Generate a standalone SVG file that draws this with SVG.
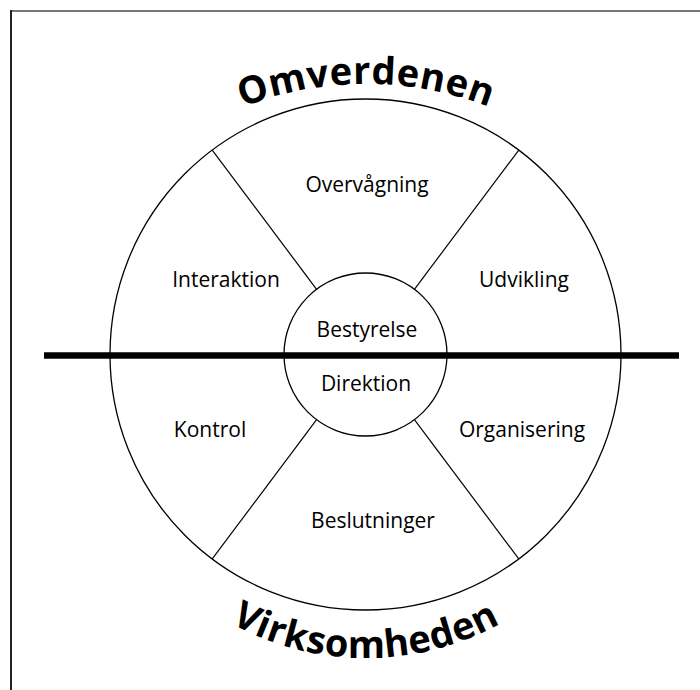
<svg xmlns="http://www.w3.org/2000/svg" width="700" height="690" viewBox="0 0 700 690">
  <style>
    .ring { fill: none; stroke: #000; stroke-width: 1.3; }
    .spoke { stroke: #000; stroke-width: 1.2; }
    .axis { stroke: #000; stroke-width: 6.5; }
    .label { font-family: "Open Sans", "Noto Sans", "DejaVu Sans", sans-serif; font-size: 21px; fill: #000; text-anchor: middle; }
    .title { font-family: "Open Sans", "Noto Sans", "DejaVu Sans", sans-serif; font-size: 38px; font-weight: bold; fill: #000; letter-spacing: 0.5px; }
  </style>
  <defs>
    <path id="arcTop" d="M 26 424 A 340 340 0 0 1 706 424"/>
    <path id="arcBottom" d="M 86 378 A 280 280 0 0 0 646 378"/>
  </defs>

  <!-- frame -->
  <g id="frame">
    <line x1="10" y1="11" x2="700" y2="11" stroke="#777" stroke-width="2"/>
    <line x1="11" y1="10" x2="11" y2="690" stroke="#222" stroke-width="2"/>
  </g>

  <!-- curved titles -->
  <g id="omverdenen">
    <text class="title"><textPath href="#arcTop" startOffset="50%" text-anchor="middle">Omverdenen</textPath></text>
  </g>
  <g id="virksomheden">
    <text class="title"><textPath href="#arcBottom" startOffset="50%" text-anchor="middle">Virksomheden</textPath></text>
  </g>

  <!-- rings and dividing lines -->
  <g id="connectors">
    <circle class="ring" cx="365.5" cy="354.5" r="255.5"/>
    <line class="spoke" x1="212.2" y1="150.1" x2="316.6" y2="289.3"/>
    <line class="spoke" x1="518.8" y1="150.1" x2="414.4" y2="289.3"/>
    <line class="spoke" x1="212.2" y1="558.9" x2="316.6" y2="419.7"/>
    <line class="spoke" x1="518.8" y1="558.9" x2="414.4" y2="419.7"/>
    <line class="axis" x1="44" y1="355.5" x2="679" y2="355.5"/>
  </g>

  <g id="core">
    <circle class="ring" cx="365.5" cy="354.5" r="81.5"/>
  </g>

  <g id="bestyrelse"><text class="label" x="367" y="337">Bestyrelse</text></g>
  <g id="direktion"><text class="label" x="366" y="391">Direktion</text></g>
  <g id="overvaagning"><text class="label" x="367" y="192">Overvågning</text></g>
  <g id="interaktion"><text class="label" x="226" y="287">Interaktion</text></g>
  <g id="udvikling"><text class="label" x="524" y="287">Udvikling</text></g>
  <g id="kontrol"><text class="label" x="210" y="437">Kontrol</text></g>
  <g id="organisering"><text class="label" x="522" y="437">Organisering</text></g>
  <g id="beslutninger"><text class="label" x="373" y="528">Beslutninger</text></g>
</svg>
